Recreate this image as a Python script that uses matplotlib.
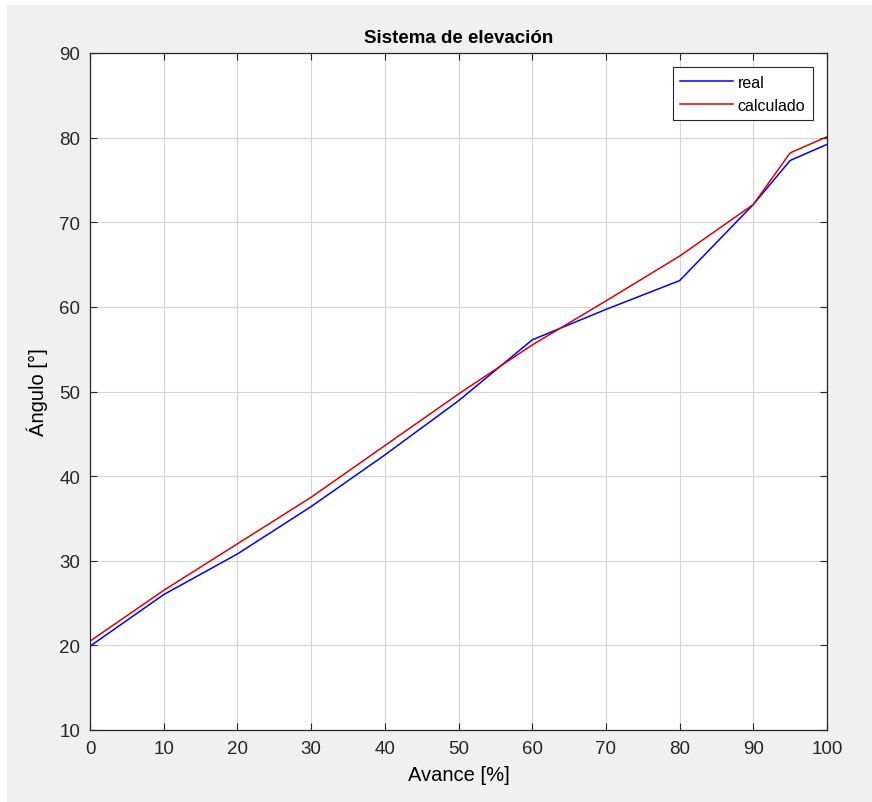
import matplotlib
matplotlib.use("Agg")
import matplotlib.pyplot as plt
from matplotlib.patches import Rectangle

plt.rcParams["font.family"] = ["Liberation Sans", "DejaVu Sans"]

# elevation angle vs. advance
avance = [0, 10, 20, 30, 40, 50, 60, 70, 80, 90, 95, 100]
angulo_real = [19.9, 26.0, 30.8, 36.4, 42.5, 48.9, 56.1, 59.7, 63.1, 72.1, 77.3, 79.2]
angulo_calc = [20.5, 26.5, 32.0, 37.5, 43.6, 49.7, 55.5, 60.7, 66.0, 72.1, 78.2, 80.1]

xticks = list(range(0, 101, 10))
yticks = list(range(10, 91, 10))

fig = plt.figure(figsize=(8.72, 8.03), dpi=100, facecolor="white")
# grey window background with a thin white margin
fig.patches.append(Rectangle((7 / 872, 0), 1 - 7 / 872, 1 - 6 / 803,
                             transform=fig.transFigure, facecolor="#f0f0f0",
                             edgecolor="none", zorder=-10))

ax = fig.add_axes([90 / 872, 1 - 731 / 803, (827 - 90) / 872, (731 - 54) / 803])
ax.set_facecolor("white")

ax.plot(avance, angulo_real, color="#0000ff", lw=1.1, label="real")
ax.plot(avance, angulo_calc, color="#e00000", lw=1.1, label="calculado")

ax.set_xlim(0, 100)
ax.set_ylim(10, 90)
ax.set_xticks(xticks)
ax.set_yticks(yticks)
ax.grid(True, color="#d4d4d4", lw=0.8)
ax.set_axisbelow(True)
ax.tick_params(direction="in", length=5, width=0.8, top=True, right=True,
               labelsize=13.5, colors="#262626", pad=7)
for s in ax.spines.values():
    s.set_color("#262626")
    s.set_linewidth(0.9)

ax.set_title("Sistema de elevación", fontsize=13.5, fontweight="bold", pad=8)
ax.set_xlabel("Avance [%]", fontsize=14.5, labelpad=6)
ax.set_ylabel("Ángulo [°]", fontsize=14.5, labelpad=8)

leg = ax.legend(loc="upper right", fontsize=11.5, handlelength=3.3,
                fancybox=False, framealpha=1, edgecolor="#262626",
                borderaxespad=0.9, handletextpad=0.3, labelspacing=0.5,
                borderpad=0.45)
leg.get_frame().set_linewidth(0.8)

fig.savefig("out.png", dpi=100, facecolor=fig.get_facecolor())
